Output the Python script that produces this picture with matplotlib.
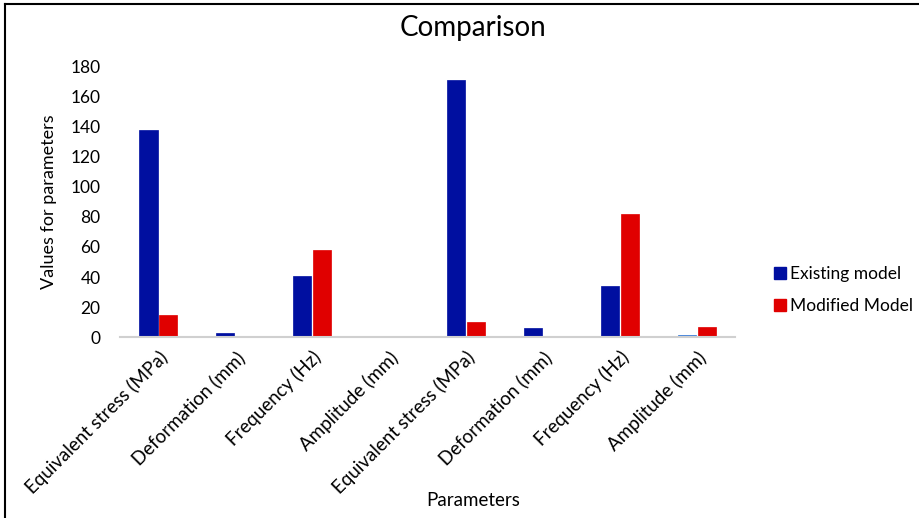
import matplotlib.pyplot as plt
import numpy as np
from matplotlib.lines import Line2D

# Data
categories = ["Equivalent stress (MPa)", "Deformation (mm)", "Frequency (Hz)", "Amplitude (mm)",
              "Equivalent stress (MPa)", "Deformation (mm)", "Frequency (Hz)", "Amplitude (mm)"]
existing = [138, 2.7, 41, 0, 171, 6, 34, 1.1]
modified = [15, 0, 58, 0, 10, 0, 82, 6.7]
series_names = ["Existing model", "Modified Model"]

BLUE = "#000FA0"
RED = "#E00000"
LIGHT_BLUE = "#2E75D6"

plt.rcParams['font.family'] = ['Lato', 'DejaVu Sans']

fig = plt.figure(figsize=(9.19, 5.18), dpi=100)
ax = fig.add_axes([0.1306, 0.3494, 0.6692, 0.5213])

x = np.arange(len(categories))
w = 0.235
blue_colors = [BLUE] * len(existing)
blue_colors[-1] = LIGHT_BLUE  # last bar is drawn in a lighter blue
ax.bar(x - w / 2 - 0.012, existing, width=w, color=blue_colors, edgecolor=blue_colors, linewidth=0.5)
ax.bar(x + w / 2 + 0.012, modified, width=w, color=RED, edgecolor=RED, linewidth=0.5)

ax.set_xlim(-0.5, len(categories) - 0.5)
ax.set_ylim(0, 180)
ax.set_yticks(np.arange(0, 181, 20))
ax.tick_params(axis='y', length=0, labelsize=12.5, pad=14)
ax.tick_params(axis='x', length=0, labelsize=13.5, pad=8)
ax.set_xticks(x)
ax.set_xticklabels(categories, rotation=45, ha='right', rotation_mode='anchor')

for s in ['top', 'right', 'left']:
    ax.spines[s].set_visible(False)
ax.spines['bottom'].set_color('#D0D0D0')
ax.spines['bottom'].set_linewidth(1.5)

fig.text(473 / 919, 1 - 28 / 518, "Comparison", fontsize=20, ha='center', va='center')
ax.set_ylabel("Values for parameters", fontsize=13, labelpad=10)
fig.text(473 / 919, 1 - 500 / 518, "Parameters", fontsize=13.5, ha='center', va='center')

handles = [Line2D([], [], marker='s', linestyle='none', markersize=8, color=BLUE),
           Line2D([], [], marker='s', linestyle='none', markersize=8, color=RED)]
fig.legend(handles, series_names, loc='center left', bbox_to_anchor=(0.822, 0.440),
           frameon=False, fontsize=12.5, handletextpad=0.1, labelspacing=0.9, handlelength=1)

# figure border (left and top edges visible in the reference)
fig.add_artist(Line2D([5 / 919, 5 / 919], [0, 1 - 4 / 518], transform=fig.transFigure, color='black', lw=1.5))
fig.add_artist(Line2D([5 / 919, 1], [1 - 4 / 518, 1 - 4 / 518], transform=fig.transFigure, color='black', lw=1.5))

fig.savefig("out.png", dpi=100)
